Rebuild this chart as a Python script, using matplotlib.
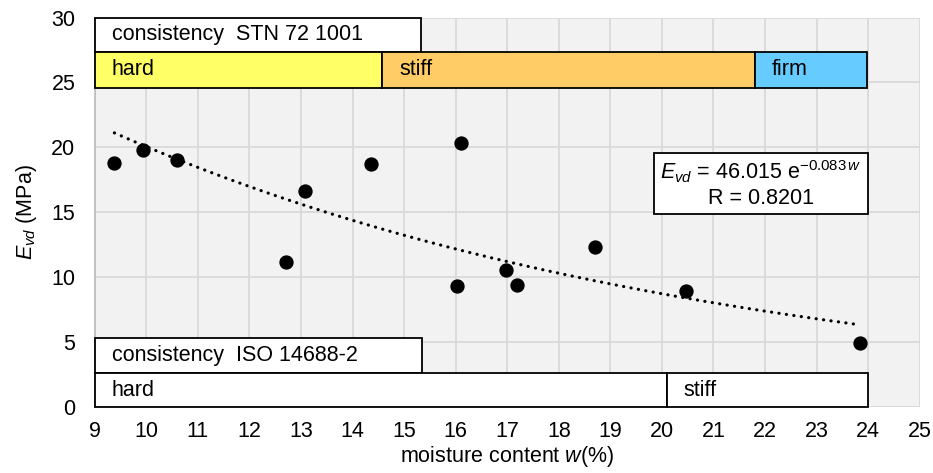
import matplotlib
matplotlib.use("Agg")
import matplotlib.pyplot as plt
from matplotlib.patches import Rectangle
import numpy as np

plt.rcParams['font.family'] = ['Liberation Sans', 'DejaVu Sans']
plt.rcParams['mathtext.fontset'] = 'custom'
plt.rcParams['mathtext.rm'] = 'Liberation Sans'
plt.rcParams['mathtext.it'] = 'Liberation Sans:italic'
plt.rcParams['mathtext.bf'] = 'Liberation Sans:bold'

# data
moisture = [9.38, 9.94, 10.59, 12.70, 13.07, 14.36, 16.03, 16.10, 16.98, 17.18, 18.71, 20.46, 23.84]
evd = [18.82, 19.79, 19.00, 11.23, 16.65, 18.72, 9.36, 20.33, 10.54, 9.44, 12.38, 8.98, 4.94]

fit_a = 46.015
fit_b = -0.083
fit_r = "0.8201"

# consistency classes (start, end, label, colour)
stn_bounds = [9.0, 14.57, 21.8, 23.97]
stn_labels = ["hard", "stiff", "firm"]
stn_colors = ["#ffff66", "#ffcc66", "#66ccff"]
iso_bounds = [9.0, 20.09, 24.0]
iso_labels = ["hard", "stiff"]

xticks = list(range(9, 26))
yticks = [0, 5, 10, 15, 20, 25, 30]

fig = plt.figure(figsize=(9.33, 4.73), dpi=100)
ax = fig.add_axes([0.1016, 0.1385, 0.8841, 0.8245])
ax.set_facecolor("#f2f2f2")
ax.set_xlim(9, 25)
ax.set_ylim(0, 30)
ax.set_xticks(xticks)
ax.set_yticks(yticks)
ax.grid(True, color="#d9d9d9", linewidth=1.3, zorder=0)
ax.set_axisbelow(True)
for s in ["top", "right", "bottom"]:
    ax.spines[s].set_visible(False)
ax.spines["left"].set_color("#bfbfbf")
ax.spines["left"].set_linewidth(1.3)
ax.tick_params(axis="both", length=0, labelsize=15.5, colors="black")
ax.tick_params(axis="x", pad=10)
ax.tick_params(axis="y", pad=14)

fs = 15.5
ec = "black"
lw = 1.3

# STN header
y_top_hdr0, y_top_hdr1 = 27.37, 30.0
ax.add_patch(Rectangle((9.0, y_top_hdr0), 15.33 - 9.0, y_top_hdr1 - y_top_hdr0,
                       facecolor="white", edgecolor=ec, lw=lw, zorder=3, clip_on=False))
ax.text(9.33, (y_top_hdr0 + y_top_hdr1) / 2, "consistency  STN 72 1001", fontsize=fs,
        va="center", ha="left", zorder=4)
y_stn0, y_stn1 = 24.6, 27.37
for i, lab in enumerate(stn_labels):
    x0, x1 = stn_bounds[i], stn_bounds[i + 1]
    ax.add_patch(Rectangle((x0, y_stn0), x1 - x0, y_stn1 - y_stn0,
                           facecolor=stn_colors[i], edgecolor=ec, lw=lw, zorder=3, clip_on=False))
    ax.text(x0 + 0.33, (y_stn0 + y_stn1) / 2, lab, fontsize=fs, va="center", ha="left", zorder=4)

# ISO header
y_iso_hdr0, y_iso_hdr1 = 2.68, 5.36
ax.add_patch(Rectangle((9.0, y_iso_hdr0), 15.35 - 9.0, y_iso_hdr1 - y_iso_hdr0,
                       facecolor="white", edgecolor=ec, lw=lw, zorder=3, clip_on=False))
ax.text(9.33, (y_iso_hdr0 + y_iso_hdr1) / 2, "consistency  ISO 14688-2", fontsize=fs,
        va="center", ha="left", zorder=4)
y_iso0, y_iso1 = 0.0, 2.68
for i, lab in enumerate(iso_labels):
    x0, x1 = iso_bounds[i], iso_bounds[i + 1]
    ax.add_patch(Rectangle((x0, y_iso0), x1 - x0, y_iso1 - y_iso0,
                           facecolor="white", edgecolor=ec, lw=lw, zorder=3, clip_on=False))
    ax.text(x0 + 0.33, (y_iso0 + y_iso1) / 2, lab, fontsize=fs, va="center", ha="left", zorder=4)

# trend line from displayed equation
xs = np.linspace(min(moisture), max(moisture), 200)
ax.plot(xs, fit_a * np.exp(fit_b * xs), color="black", lw=2.3,
        linestyle=(0, (0.05, 2.3)), dash_capstyle="round", zorder=5)

# points
ax.plot(moisture, evd, "o", color="black", markersize=9.3, zorder=6, clip_on=False)

# equation box
ax.add_patch(Rectangle((19.85, 14.86), 23.99 - 19.85, 19.56 - 14.86,
                       facecolor="white", edgecolor=ec, lw=lw, zorder=7))
ax.text(21.92, 18.1, r"$E_{vd}$ = 46.015 e$^{-0.083\,\mathit{w}}$", fontsize=fs,
        ha="center", va="center", zorder=8)
ax.text(21.92, 16.05, "R = " + fit_r, fontsize=fs, ha="center", va="center", zorder=8)

ax.set_xlabel(r"moisture content $\mathit{w}$(%)", fontsize=fs, labelpad=1)
ax.set_ylabel(r"$E_{vd}$ (MPa)", fontsize=fs, labelpad=9)

fig.savefig("out.png", dpi=100)
